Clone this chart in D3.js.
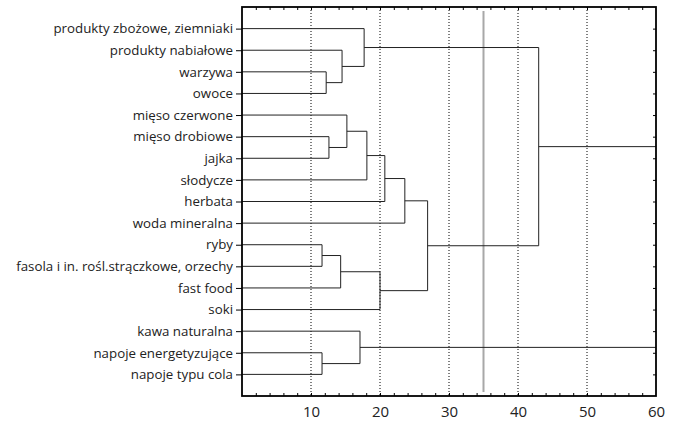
<!DOCTYPE html>
<html>
<head>
<meta charset="utf-8">
<script src="https://cdn.jsdelivr.net/npm/d3@7"></script>
<style>
  body { margin: 0; background: #fff; }
  text { font-family: "Open Sans", sans-serif; fill: #222; }
</style>
</head>
<body>
<div id="chart"></div>
<script>
// leaves, top to bottom
const leaves = [
  "produkty zbożowe, ziemniaki", "produkty nabiałowe", "warzywa", "owoce",
  "mięso czerwone", "mięso drobiowe", "jajka", "słodycze", "herbata",
  "woda mineralna", "ryby", "fasola i in. rośl.strączkowe, orzechy",
  "fast food", "soki", "kawa naturalna", "napoje energetyzujące", "napoje typu cola"
];
// joins: [node a, node b, linkage distance]; ids 0..16 are leaves, new nodes get 17, 18, ...
const joins = [
  [2, 3, 12.2],
  [1, 17, 14.5],
  [0, 18, 17.7],
  [5, 6, 12.6],
  [4, 20, 15.2],
  [21, 7, 18.1],
  [22, 8, 20.7],
  [23, 9, 23.6],
  [10, 11, 11.6],
  [25, 12, 14.3],
  [26, 13, 20.0],
  [24, 27, 26.9],
  [19, 28, 43.0],
  [15, 16, 11.6],
  [14, 30, 17.1]
];
// clusters still open at the right edge of the axis
const roots = [29, 31];
const xTicks = [10, 20, 30, 40, 50, 60];
const cutValue = 35;

const W = 676, H = 423;
const margin = {top: 7, right: 20, bottom: 27, left: 242};
const width = W - margin.left - margin.right,
      height = H - margin.top - margin.bottom;

const svg = d3.select("#chart").append("svg")
    .attr("width", W).attr("height", H)
  .append("g")
    .attr("transform", "translate(" + margin.left + "," + margin.top + ")");

const x = d3.scaleLinear().domain([0, 60]).range([0, width]);
const y = d3.scalePoint().domain(d3.range(leaves.length)).range([0, height]).padding(1);

// node positions
let nodes = leaves.map((d, i) => ({y: y(i), h: 0}));
joins.forEach(j => {
  nodes.push({y: (nodes[j[0]].y + nodes[j[1]].y) / 2, h: j[2]});
});

// dotted grid
svg.append("g").selectAll("line").data(xTicks.slice(0, -1)).join("line")
    .attr("x1", d => x(d)).attr("x2", d => x(d))
    .attr("y1", 0).attr("y2", height)
    .attr("stroke", "#000").attr("stroke-width", 1)
    .attr("stroke-dasharray", "1,2");

// cut line
svg.append("line")
    .attr("x1", x(cutValue)).attr("x2", x(cutValue))
    .attr("y1", 4).attr("y2", height - 4)
    .attr("stroke", "#a8a8a8").attr("stroke-width", 2);

// tree
const tree = svg.append("g").attr("fill", "none").attr("stroke", "#222").attr("stroke-width", 1);
joins.forEach(j => {
  const a = nodes[j[0]], b = nodes[j[1]], xh = x(j[2]);
  tree.append("path")
      .attr("d", "M" + x(a.h) + "," + a.y + "H" + xh + "V" + b.y + "H" + x(b.h));
});
roots.forEach(r => {
  tree.append("path").attr("d", "M" + x(nodes[r].h) + "," + nodes[r].y + "H" + width);
});

// axes
svg.append("g")
    .attr("transform", "translate(0," + height + ")")
    .call(d3.axisBottom(x).tickValues(d3.range(2, 60, 2)).tickSize(-3).tickFormat(""))
    .call(g => g.select(".domain").remove());
svg.append("g")
    .call(d3.axisTop(x).tickValues(d3.range(2, 60, 2)).tickSize(-3).tickFormat(""))
    .call(g => g.select(".domain").remove());
svg.append("g")
    .attr("transform", "translate(" + width + ",0)")
    .call(d3.axisRight(y).tickSize(-3).tickFormat(""))
    .call(g => g.select(".domain").remove());

svg.append("g")
    .call(d3.axisLeft(y).tickSize(6).tickPadding(3).tickFormat(i => leaves[i]))
    .call(g => g.select(".domain").remove())
    .call(g => g.selectAll("text").style("font-size", "13.3px").attr("fill", "#222"));

svg.append("g")
    .attr("transform", "translate(0," + height + ")")
    .call(d3.axisBottom(x).tickValues(xTicks).tickSize(0).tickPadding(10))
    .call(g => g.select(".domain").remove())
    .call(g => g.selectAll("text").style("font-size", "15px").attr("fill", "#222"));

svg.selectAll(".tick line").attr("stroke", "#000");

// frame
svg.append("rect")
    .attr("width", width).attr("height", height)
    .attr("fill", "none").attr("stroke", "#000").attr("stroke-width", 1.8);
</script>
</body>
</html>
